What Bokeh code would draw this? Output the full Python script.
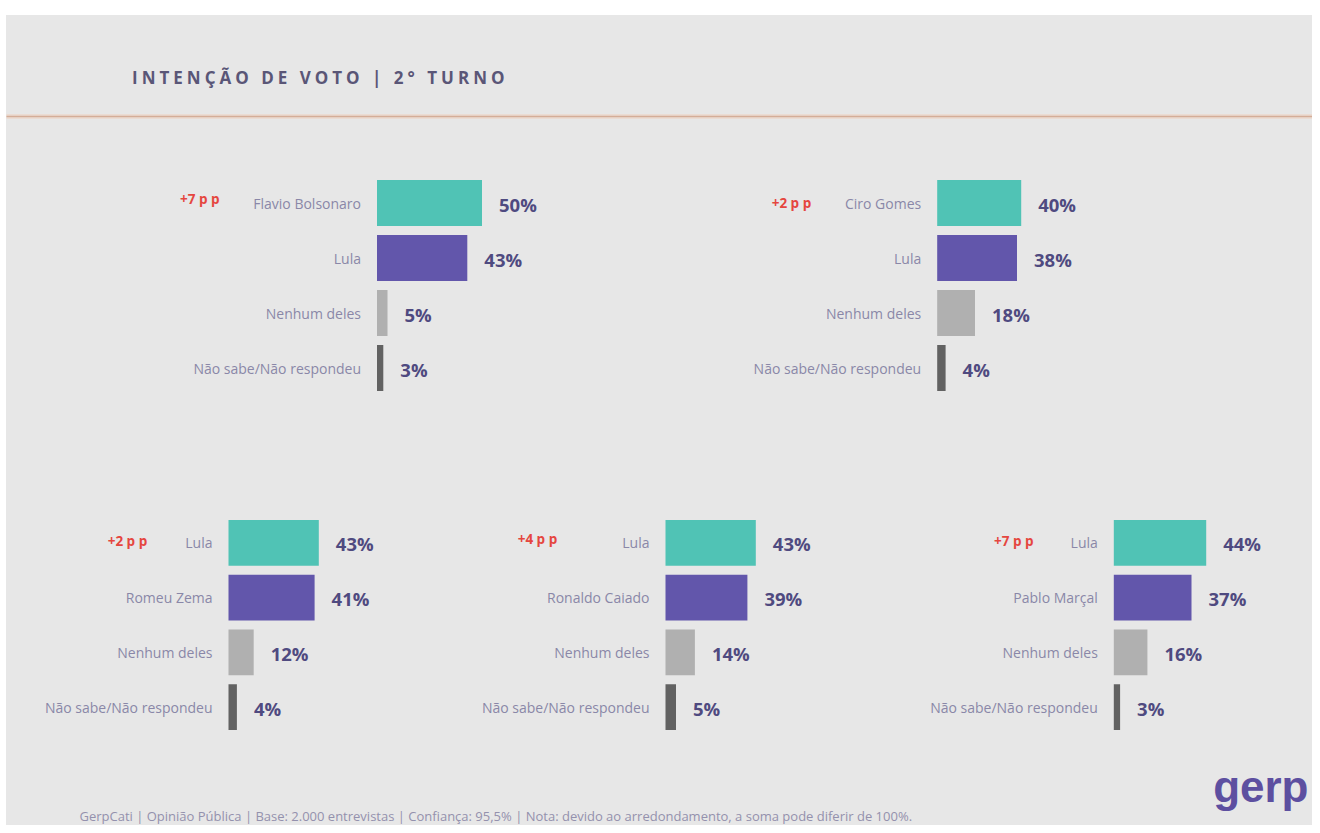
from bokeh.plotting import figure
from bokeh.layouts import column, row
from bokeh.models import Range1d, FactorRange
from bokeh.core.properties import value
from bokeh.embed import file_html
from bokeh.resources import INLINE

# ---------------- data ----------------
title_text = "INTENÇÃO DE VOTO | 2° TURNO"
footer_text = ("GerpCati | Opinião Pública | Base: 2.000 entrevistas | Confiança: 95,5% | "
               "Nota: devido ao arredondamento, a soma pode diferir de 100%.")
logo_text = "gerp"

tl_labels = ["Flavio Bolsonaro", "Lula", "Nenhum deles", "Não sabe/Não respondeu"]
tl_values = [50, 43, 5, 3]
tl_diff = "+7 p p"

tr_labels = ["Ciro Gomes", "Lula", "Nenhum deles", "Não sabe/Não respondeu"]
tr_values = [40, 38, 18, 4]
tr_diff = "+2 p p"

bl_labels = ["Lula", "Romeu Zema", "Nenhum deles", "Não sabe/Não respondeu"]
bl_values = [43, 41, 12, 4]
bl_diff = "+2 p p"

bm_labels = ["Lula", "Ronaldo Caiado", "Nenhum deles", "Não sabe/Não respondeu"]
bm_values = [43, 39, 14, 5]
bm_diff = "+4 p p"

br_labels = ["Lula", "Pablo Marçal", "Nenhum deles", "Não sabe/Não respondeu"]
br_values = [44, 37, 16, 3]
br_diff = "+7 p p"

# ---------------- style ----------------
BG = "#e7e7e7"
BAR_COLORS = ["#50c3b5", "#6256ab", "#b0b0b0", "#626262"]
VALUE_COLOR = "#4f4a80"
LABEL_COLOR = "#8a87a8"
DIFF_COLOR = "#e5463f"
PX_PER_PCT = 2.1
ROW_PX = 55.5
FONT = "Open Sans"
W_TOTAL = 1312


def base_fig(width, height, **kw):
    p = figure(width=width, height=height, output_backend="svg", toolbar_location=None,
               x_axis_location=None, y_axis_location=None,
               background_fill_color=None, border_fill_color=None, outline_line_color=None,
               min_border_left=0, min_border_right=0, **kw)
    p.grid.visible = False
    return p


def panel(labels, values, diff, width, height, bar_left, top_pad, diff_dx, diff_dy):
    factors = list(reversed(labels))
    frame_h = ROW_PX * len(labels)
    p = base_fig(width, height,
                 x_range=Range1d(-bar_left / PX_PER_PCT, (width - bar_left) / PX_PER_PCT),
                 y_range=FactorRange(*factors),
                 min_border_top=int(round(top_pad)),
                 min_border_bottom=int(round(height - top_pad - frame_h)))
    p.hbar(y=labels, left=0, right=values, height=0.835,
           fill_color=BAR_COLORS, line_color=None)
    p.text(x=[0] * len(labels), y=labels, text=labels, x_offset=-16,
           text_align="right", text_baseline="middle",
           text_font=value(FONT), text_font_size="14px", text_color=LABEL_COLOR)
    p.text(x=values, y=labels, text=[f"{v}%" for v in values], x_offset=17, y_offset=1,
           text_align="left", text_baseline="middle",
           text_font=value(FONT), text_font_style="bold", text_font_size="18.5px",
           text_color=VALUE_COLOR)
    p.text(x=[0], y=[labels[0]], text=[diff], x_offset=diff_dx, y_offset=diff_dy,
           text_align="right", text_baseline="middle",
           text_font=value(FONT), text_font_style="bold", text_font_size="13.5px",
           text_color=DIFF_COLOR)
    return p


# ---------------- header ----------------
hdr = base_fig(W_TOTAL, 140, x_range=Range1d(0, W_TOTAL), y_range=Range1d(140, 0),
               min_border_top=0, min_border_bottom=0,
               stylesheets=[":host { letter-spacing: 4px; }"])
hdr.line(x=[6, W_TOTAL], y=[116, 116], line_color="#ecd9ce", line_width=5, line_alpha=0.8)
hdr.line(x=[6, W_TOTAL], y=[116, 116], line_color="#d4ad98", line_width=1.6)
hdr.text(x=[131.5], y=[77], text=[title_text], text_align="left", text_baseline="middle",
         text_font=value(FONT), text_font_style="bold", text_font_size="17px",
         text_color="#5a5677")

# ---------------- panels ----------------
tl = panel(tl_labels, tl_values, tl_diff, 660, 300, 376.5, 202.5 - 27.75 - 140, -157.5, -4)
tr = panel(tr_labels, tr_values, tr_diff, 652, 300, 276.7, 200.5 - 27.75 - 140, -126, 0)
bl = panel(bl_labels, bl_values, bl_diff, 440, 320, 228, 540 - 27.75 - 440, -81.3, -2)
bm = panel(bm_labels, bm_values, bm_diff, 440, 320, 225, 543 - 27.75 - 440, -108.3, -4)
br = panel(br_labels, br_values, br_diff, 432, 320, 233.3, 540 - 27.75 - 440, -80.3, -2)

# ---------------- footer ----------------
ftr = base_fig(W_TOTAL, 65, x_range=Range1d(0, W_TOTAL), y_range=Range1d(65, 0),
               min_border_top=0, min_border_bottom=0)
ftr.text(x=[79], y=[55], text=[footer_text], text_align="left", text_baseline="middle",
         text_font=value(FONT), text_font_size="13px", text_color="#9491ad")
ftr.text(x=[1308], y=[26], text=[logo_text], text_align="right", text_baseline="middle",
         text_font=value("Liberation Sans"), text_font_style="bold",
         text_font_size="44px", text_color="#5d4fa0")

layout = column(hdr, row(tl, tr), row(bl, bm, br), ftr,
                stylesheets=[f":host {{ background-color: {BG}; "
                             "box-shadow: inset 6px 15px 0 0 #ffffff; }"])

open("out.html", "w").write(file_html(layout, INLINE))
